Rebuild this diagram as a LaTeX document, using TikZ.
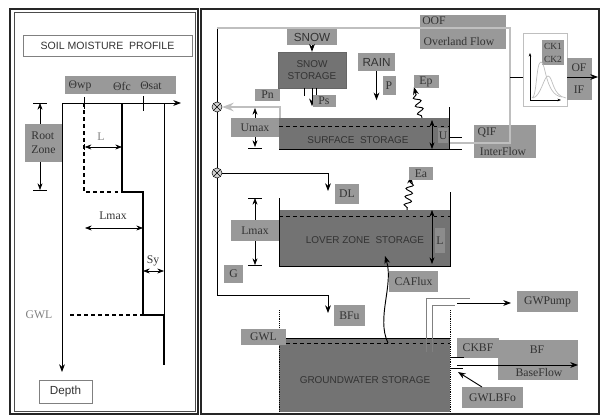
\documentclass[tikz,border=0pt]{standalone}
\usepackage{fontspec}
\setmainfont{Liberation Serif}
\setsansfont{Liberation Sans}
\usetikzlibrary{arrows.meta,decorations.pathmorphing}
\definecolor{boxgray}{gray}{0.6}
\definecolor{storegray}{gray}{0.45}
\definecolor{softgray}{gray}{0.55}
\definecolor{linegray}{gray}{0.75}
\definecolor{inkgray}{gray}{0.2}
\newcommand{\storefont}{\sffamily\fontsize{8.5}{10}\selectfont}

\begin{document}
\begin{tikzpicture}[x=0.03cm,y=-0.03cm,>=Stealth,
  lbl/.style={fill=boxgray,inner sep=1pt,text=inkgray},
  txt/.style={inner sep=0pt,text=inkgray},
  sz/.style 2 args={minimum width=#1*0.03cm,minimum height=#2*0.03cm},
  titlebox/.style={draw=gray,fill=white,inner sep=1pt,text=inkgray},
  store/.style={fill=storegray,draw=black!60,text=inkgray,font=\storefont},
  flow/.style={->,thick},
  dim/.style={<->,semithick},
  wave/.style={->,thick,decorate,decoration={snake,amplitude=3pt,segment length=7pt,pre length=2pt,post length=4pt}},
  junction/.style={circle,draw,fill=gray!35,inner sep=0pt,minimum size=0.3cm,
    path picture={\draw (path picture bounding box.north west) -- (path picture bounding box.south east)
      (path picture bounding box.north east) -- (path picture bounding box.south west);}}]
\useasboundingbox (0,0) rectangle (602,417);

% frames
\draw[line width=1.6pt,black!85] (10,9) rectangle (198,414);
\draw[black!70] (14,12) rectangle (195,411);
\draw[line width=1.6pt,black!85] (201,9) rectangle (599,414);

% soil moisture profile
\node[titlebox,font=\sffamily\small,sz={169}{21}] (smp) at (107.5,45.5) {SOIL MOISTURE\ \ PROFILE};
\node[lbl,sz={111}{18}] (thetas) at (120.5,85) {};
\node[txt] (twp) at (80,86) {Θwp};
\node[txt] (tfc) at (122,86) {Θfc};
\node[txt] (tsat) at (151,86) {Θsat};
\coordinate (o) at (62,103);
\draw[thick,->] (o) -- (181,103);
\draw[thick,->] (o) -- (62,372);
\draw[thick] (84,97) -- (84,109) (143,96) -- (143,111);
\draw[very thick,dashed] (84,103) -- (84,192) -- (122,192);
\draw[very thick] (122,103) -- (122,192) -- (143,192) -- (143,315) -- (164,315) -- (164,365);
\draw[semithick] (164,103) -- (164,315);
\draw[very thick,dashed] (70,315) -- (143,315);
\node[txt,text=gray] (gwla) at (39,315) {GWL};
\draw[semithick,|<->] (84,147) -- (122,147);
\node[txt,text=gray] (la) at (101,137) {L};
\draw[dim] (85,228) -- (143,228);
\node[txt] (lmaxa) at (113,216) {Lmax};
\draw[dim] (143,271) -- (164,271);
\node[txt] (sy) at (153,261) {Sy};
\draw[semithick] (33,103) -- (47,103) (33,190) -- (47,190);
\draw[dim] (40,103) -- (40,190);
\node[lbl,sz={37}{38},align=left] (root) at (43.5,143) {Root\\Zone};
\node[titlebox,font=\sffamily,sz={53}{23}] (depth) at (65.5,391.5) {Depth};

% storages
\node[store,sz={68}{36},align=center] (snowstore) at (312,70) {SNOW\\STORAGE};
\node[store,draw=none,sz={170}{31}] (surface) at (364,133.5) {};
\node[store,draw=none,sz={171}{56}] (lower) at (364.5,238) {};
\node[store,draw=none,sz={171}{74}] (ground) at (364.5,375) {};
\node[txt,font=\storefont] (surftxt) at (358,140) {SURFACE\ \ STORAGE};
\node[txt,font=\storefont] (lowtxt) at (365,240) {LOVER ZONE\ \ STORAGE};
\node[txt,font=\storefont] (gwtxt) at (365,380) {GROUNDWATER STORAGE};
\draw[semithick] (449,107) -- (449,149) (279,149) -- (449,149);
\draw[thick,dashed] (279,126) -- (449,126);
\draw[semithick] (279,198) -- (279,266) -- (450,266) -- (450,192);
\draw[thick,dashed] (279,216) -- (450,216);
\draw[thick] (279,338) -- (450,338);
\draw[thick,dashed] (279,343) -- (450,343);
\draw[densely dotted,semithick] (279,310) -- (279,412) (450,310) -- (450,412);

% inputs
\node[lbl,font=\sffamily,sz={50}{16}] (snow) at (312,37) {SNOW};
\draw[flow] (snow) -- (snowstore);
\draw[semithick] (304,88) -- (304,96) (316,88) -- (316,96);
\draw[flow] (snowstore.south) -- ++(0,18);
\node[lbl,sz={23}{12}] (ps) at (324,101) {Ps};
\node[lbl,font=\sffamily,sz={37}{18}] (rain) at (376.5,62) {RAIN};
\draw[flow] (rain.south) -- ++(0,29);
\node[lbl,sz={13}{19}] (p) at (389,85.5) {P};
\draw[wave] (422,118) -- (414,87);
\node[lbl,sz={25}{13}] (ep) at (426,81.5) {Ep};

% junctions and rail
\node[junction] (j1) at (217,107) {};
\node[junction] (j2) at (217,173) {};
\node[lbl,sz={25}{12}] (pn) at (267.5,95) {Pn};
\draw[linegray,line width=1.5pt,->] (280,118) -- (280,107) -- (j1);
\draw[thick] (217,28) -- (j1) -- (j2);
\draw[thick,->] (j2) -- (217,295) -- (328,295) -- (328,313);
\draw[thick,->] (j2) -- (328,173) -- (328,191);
\node[lbl,sz={24}{20}] (dl) at (347,194) {DL};
\node[lbl,sz={31}{21}] (bfu) at (349.5,315.5) {BFu};
\node[lbl,sz={19}{18}] (g) at (233.5,274) {G};

% capacities
\draw[semithick] (248,148) -- (262,148);
\draw[dim] (255,108) -- (255,147);
\node[lbl,sz={48}{19}] (umax) at (255,127.5) {Umax};
\draw[semithick] (248,198) -- (262,198) (248,265) -- (262,265);
\draw[dim] (255,198) -- (255,265);
\node[lbl,sz={48}{21}] (lmaxb) at (255,230.5) {Lmax};
\draw[dim] (432,120) -- (432,149);
\node[lbl,fill=softgray,inner sep=0pt,sz={10}{15}] (u) at (443,135.5) {U};
\draw[dim] (432,210) -- (432,264);
\node[lbl,fill=softgray,inner sep=0pt,sz={10}{25}] (l) at (440,240.5) {L};
\draw[wave] (407,210) -- (411,176);
\node[lbl,sz={24}{13}] (ea) at (421,173.5) {Ea};
\draw[thick,->] (388,343) .. controls (376,318) and (394,285) .. (385,256);
\node[lbl,sz={49}{21}] (caflux) at (413.5,281.5) {CAFlux};
\node[lbl,sz={45}{16}] (gwlb) at (263.5,337) {GWL};

% surface outflows
\node[lbl,sz={86}{34}] (oof) at (463,32) {};
\node[txt] (ooftxt) at (434,21) {OOF};
\node[txt] (overland) at (459,41) {Overland Flow};
\node[lbl,sz={62}{33}] (qif) at (505,141.5) {};
\node[txt] (qiftxt) at (487,133) {QIF};
\node[txt] (interflow) at (503,151) {InterFlow};
\draw[semithick] (449,137) -- (462,137) (449,149) -- (462,149);
\draw[linegray,line width=1.2pt] (217,28) -- (510,28) -- (510,143) -- (450,143);

% routing
\node[draw=linegray,thick,fill=white,sz={44}{73}] (route) at (545,69.5) {};
\node[lbl,sz={22}{25}] (ck) at (553,52.5) {};
\node[txt,font=\footnotesize] (ck1) at (553,46) {CK1};
\node[txt,font=\footnotesize] (ck2) at (553,59) {CK2};
\draw[linegray,semithick] (532,98) .. controls (537,97) and (536,62) .. (541,62) .. controls (546,62) and (545,95) .. (562,97);
\draw[linegray,semithick] (533,98) .. controls (541,96) and (544,76) .. (548,76) .. controls (553,76) and (552,96) .. (566,98);
\draw[semithick,-{Stealth[length=3pt]}] (530,100) -- (530,53);
\draw[semithick,-{Stealth[length=3pt]}] (530,100) -- (561,100);
\draw[thick] (510,77) -- (523,77);
\node[lbl,sz={25}{42}] (ofif) at (579.5,79) {};
\node[txt] (of) at (579,68) {OF};
\node[txt] (if) at (579,90) {IF};
\draw[thick,->] (567,77) -- (598,77);

% groundwater outflows
\draw[gray,semithick] (426,352) -- (426,298) -- (470,298) (432,352) -- (432,305) -- (455,305);
\draw[thick,->] (457,303) -- (511,303);
\node[lbl,sz={61}{21}] (gwpump) at (547.5,301.5) {GWPump};
\node[lbl,sz={80}{40}] (bf) at (538,360) {};
\node[lbl,sz={42}{20}] (ckbf) at (478,348) {CKBF};
\node[txt] (bftxt) at (537,350) {BF};
\node[txt] (baseflow) at (539,372) {BaseFlow};
\draw[semithick] (450,357) -- (464,357) (450,368) -- (463,368);
\draw[white,thick] (457,360) -- (498,360);
\draw[thick,->] (457,365) -- (578,365);
\node[lbl,sz={61}{21}] (gwlbfo) at (492.5,397.5) {GWLBFo};
\draw[thick,->] (482,387) -- (458,372);
\end{tikzpicture}
\end{document}
